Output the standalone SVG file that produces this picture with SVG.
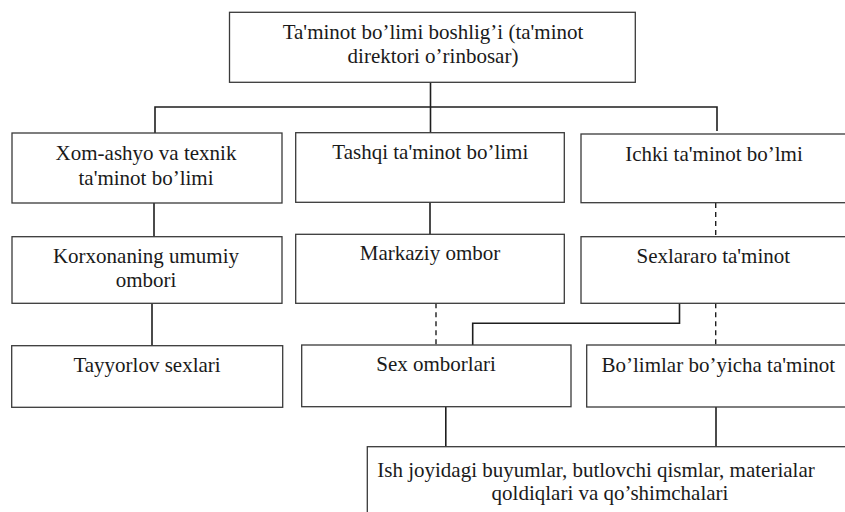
<svg xmlns="http://www.w3.org/2000/svg" width="845" height="512" viewBox="0 0 845 512">
  <style>
    .box { fill: #ffffff; stroke: #3a3a3a; stroke-width: 1.3; }
    .lbl { font-family: "Liberation Serif", "Times New Roman", serif; font-size: 21px; fill: #1a1a1a; text-anchor: middle; }
    .solid { fill: none; stroke: #1e1e1e; stroke-width: 1.6; }
    .dash { fill: none; stroke: #1e1e1e; stroke-width: 1.4; stroke-dasharray: 5 4; }
  </style>
  <rect width="845" height="512" fill="#ffffff"/>

  <!-- connectors -->
  <g id="connectors">
    <path class="solid" d="M430.5 82.3 V132.7"/>
    <path class="solid" d="M155 133 V107 H717 V131"/>
    <path class="solid" d="M154 203 V236.7"/>
    <path class="solid" d="M430 202.3 V234.3"/>
    <path class="dash" d="M715.7 203 V236.7"/>
    <path class="solid" d="M152 303.3 V345.7"/>
    <path class="dash" d="M436 303.3 V345"/>
    <path class="dash" d="M715.7 303.3 V345"/>
    <path class="solid" d="M679.5 303.3 V323.3 H472.7 V345"/>
    <path class="solid" d="M445.8 406.7 V446.7"/>
    <path class="solid" d="M716 407 V446.7"/>
  </g>

  <!-- level 0 -->
  <g id="head">
    <rect class="box" x="229.5" y="12.3" width="405.8" height="70"/>
    <text class="lbl" x="433" y="39.3">Ta'minot bo’limi boshlig’i (ta'minot</text>
    <text class="lbl" x="433" y="63.3">direktori o’rinbosar)</text>
  </g>

  <!-- level 1 -->
  <g id="xomashyo">
    <rect class="box" x="12" y="133" width="270" height="70"/>
    <text class="lbl" x="146" y="160">Xom-ashyo va texnik</text>
    <text class="lbl" x="146" y="185">ta'minot bo’limi</text>
  </g>
  <g id="tashqi">
    <rect class="box" x="295.7" y="132.7" width="268.6" height="69.6"/>
    <text class="lbl" x="430.3" y="159.3">Tashqi ta'minot bo’limi</text>
  </g>
  <g id="ichki">
    <rect class="box" x="581" y="134" width="270" height="68.7"/>
    <text class="lbl" x="714" y="160.7">Ichki ta'minot bo’lmi</text>
  </g>

  <!-- level 2 -->
  <g id="korxona">
    <rect class="box" x="12" y="236.7" width="270" height="66.6"/>
    <text class="lbl" x="146" y="262.7">Korxonaning umumiy</text>
    <text class="lbl" x="146" y="286.7">ombori</text>
  </g>
  <g id="markaziy">
    <rect class="box" x="295.7" y="234.3" width="268.6" height="69"/>
    <text class="lbl" x="430" y="260">Markaziy ombor</text>
  </g>
  <g id="sexlararo">
    <rect class="box" x="581" y="236.7" width="270" height="66.6"/>
    <text class="lbl" x="713.3" y="263.3">Sexlararo ta'minot</text>
  </g>

  <!-- level 3 -->
  <g id="tayyorlov">
    <rect class="box" x="11.7" y="345.7" width="271" height="61.6"/>
    <text class="lbl" x="147" y="371.7">Tayyorlov sexlari</text>
  </g>
  <g id="sexombor">
    <rect class="box" x="301.7" y="345" width="269.3" height="61.7"/>
    <text class="lbl" x="436" y="371.3">Sex omborlari</text>
  </g>
  <g id="bolimlar">
    <rect class="box" x="586.7" y="345" width="270" height="62"/>
    <text class="lbl" x="718.3" y="371.7">Bo’limlar bo’yicha ta'minot</text>
  </g>

  <!-- level 4 -->
  <g id="ishjoyi">
    <rect class="box" x="367.3" y="446.7" width="490" height="80"/>
    <text class="lbl" x="596" y="476.7">Ish joyidagi buyumlar, butlovchi qismlar, materialar</text>
    <text class="lbl" x="610" y="500">qoldiqlari va qo’shimchalari</text>
  </g>
</svg>
